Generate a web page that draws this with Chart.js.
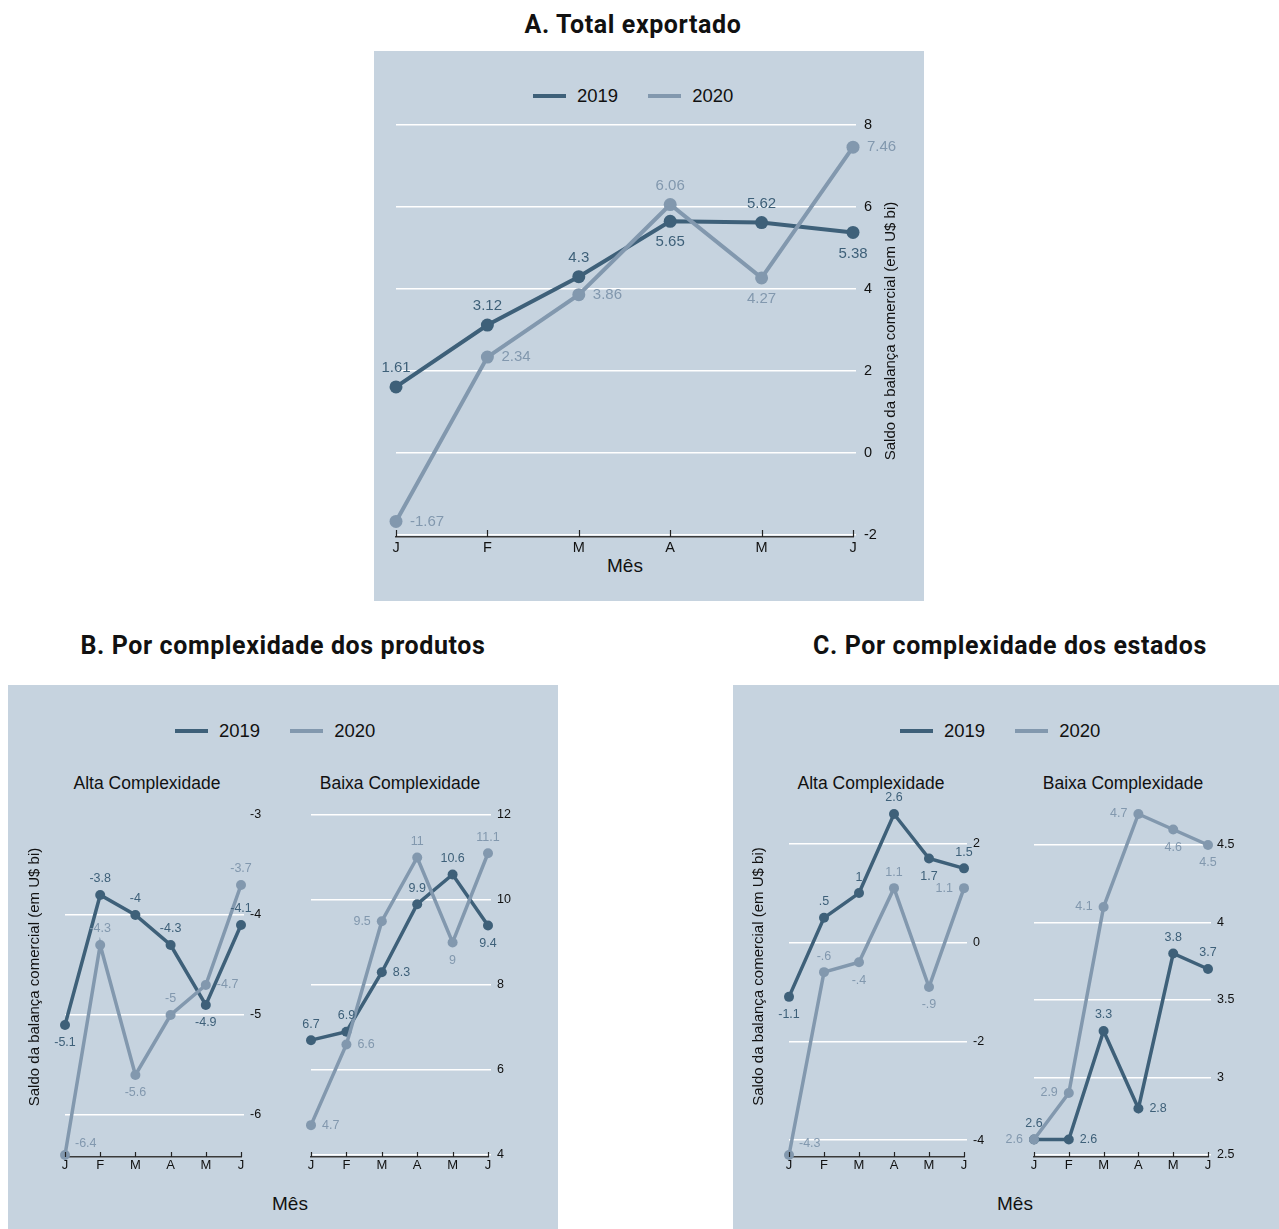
<!DOCTYPE html>
<html>
<head>
<meta charset="utf-8">
<script src="https://cdn.jsdelivr.net/npm/chart.js@4.4.0/dist/chart.umd.min.js"></script>
<style>
body { margin: 0; width: 1279px; height: 1229px; position: relative; overflow: hidden; background: #fff;
       font-family: "Liberation Sans", Arial, sans-serif; color: #111; }
.panel { position: absolute; background: #c6d3df; }
.head { position: absolute; transform: translate(-50%, -50%); white-space: nowrap;
        font-family: Roboto, sans-serif; font-weight: bold; font-size: 25px; letter-spacing: 0.6px; color: #111; }
.ctr { position: absolute; transform: translate(-50%, -50%); white-space: nowrap; }
.legend { position: absolute; display: flex; align-items: center; font-size: 18.5px; transform: translateY(-50%); }
.sw { display: inline-block; width: 33px; height: 4px; margin-right: 11px; }
canvas { position: absolute; }
</style>
</head>
<body>
<div class="panel" style="left:374px;top:51px;width:550px;height:550px"></div>
<div class="panel" style="left:8px;top:685px;width:550px;height:544px"></div>
<div class="panel" style="left:733px;top:685px;width:546px;height:544px"></div>

<script>
const months = ['J', 'F', 'M', 'A', 'M', 'J'];
const years = ['2019', '2020'];

// A. Total exportado
const total2019 = [1.61, 3.12, 4.3, 5.65, 5.62, 5.38];
const total2020 = [-1.67, 2.34, 3.86, 6.06, 4.27, 7.46];
const totalTicks = [-2, 0, 2, 4, 6, 8];

// B. Por complexidade dos produtos
const prodAlta2019 = [-5.1, -3.8, -4, -4.3, -4.9, -4.1];
const prodAlta2020 = [-6.4, -4.3, -5.6, -5, -4.7, -3.7];
const prodAltaTicks = [-6, -5, -4, -3];
const prodBaixa2019 = [6.7, 6.9, 8.3, 9.9, 10.6, 9.4];
const prodBaixa2020 = [4.7, 6.6, 9.5, 11, 9, 11.1];
const prodBaixaTicks = [4, 6, 8, 10, 12];

// C. Por complexidade dos estados
const estAlta2019 = [-1.1, 0.5, 1, 2.6, 1.7, 1.5];
const estAlta2020 = [-4.3, -0.6, -0.4, 1.1, -0.9, 1.1];
const estAltaTicks = [-4, -2, 0, 2];
const estBaixa2019 = [2.6, 2.6, 3.3, 2.8, 3.8, 3.7];
const estBaixa2020 = [2.6, 2.9, 4.1, 4.7, 4.6, 4.5];
const estBaixaTicks = [2.5, 3, 3.5, 4, 4.5];

const colors = ['#3e6079', '#8298ae'];
const family = '"Liberation Sans", Arial, sans-serif';
const yTitle = 'Saldo da balança comercial (em U$ bi)';

// stata style numbers: .5, -.6
const fmt = v => String(v).replace(/^(-?)0\./, '$1.');

// point labels, x tick marks and the rotated y title
const extras = {
  id: 'extras',
  afterDatasetsDraw(chart, args, o) {
    const ctx = chart.ctx;
    const area = chart.chartArea;
    ctx.save();
    ctx.font = o.labelSize + 'px ' + family;
    ctx.textBaseline = 'middle';
    chart.data.datasets.forEach((ds, di) => {
      const pos = o.pos[di];
      ctx.fillStyle = ds.borderColor;
      chart.getDatasetMeta(di).data.forEach((pt, i) => {
        let x = pt.x, y = pt.y;
        ctx.textAlign = 'center';
        if (pos[i] === 't') y -= o.off;
        else if (pos[i] === 'b') y += o.offB;
        else if (pos[i] === 'r') { x += o.gap; ctx.textAlign = 'left'; }
        else if (pos[i] === 'l') { x -= o.gap; ctx.textAlign = 'right'; }
        else if (pos[i] === 'tr') { x += 10; y -= 11; ctx.textAlign = 'left'; }
        ctx.fillText(fmt(ds.data[i]), x, y);
      });
    });

    const xs = chart.scales.x;
    ctx.strokeStyle = '#222';
    ctx.lineWidth = 1.2;
    xs.ticks.forEach((t, i) => {
      const px = Math.round(xs.getPixelForTick(i)) + 0.5;
      ctx.beginPath();
      ctx.moveTo(px, area.bottom - o.tick);
      ctx.lineTo(px, area.bottom);
      ctx.stroke();
    });

    if (o.title) {
      const tx = o.title.side === 'right' ? area.right + o.title.dx : area.left - o.title.dx;
      ctx.translate(tx, (area.top + area.bottom) / 2 + o.title.dy);
      ctx.rotate(-Math.PI / 2);
      ctx.fillStyle = '#111';
      ctx.textAlign = 'center';
      ctx.font = '15px ' + family;
      ctx.fillText(yTitle, 0, 0);
    }
    ctx.restore();
  }
};

function lineChart(box, s) {
  const cv = document.createElement('canvas');
  cv.width = box.w;
  cv.height = box.h;
  cv.style.left = box.x + 'px';
  cv.style.top = box.y + 'px';
  document.body.appendChild(cv);
  const skip = s.noGrid || [];
  return new Chart(cv, {
    type: 'line',
    data: {
      labels: months,
      datasets: s.series.map((d, i) => ({
        label: years[i],
        data: d,
        borderColor: colors[i],
        backgroundColor: colors[i],
        pointBackgroundColor: colors[i],
        borderWidth: s.lw,
        pointRadius: s.pr,
        pointHoverRadius: s.pr,
        pointBorderWidth: 0,
        tension: 0,
        clip: false,
        order: 1 - i
      }))
    },
    options: {
      responsive: false,
      animation: false,
      devicePixelRatio: 1,
      events: [],
      layout: { padding: { left: s.left - box.x, top: s.top - box.y, right: 0, bottom: 0 } },
      plugins: {
        legend: { display: false },
        tooltip: { enabled: false },
        extras: s.extras
      },
      scales: {
        x: {
          grid: { display: false, drawTicks: false },
          border: { display: true, color: '#3a3a3a', width: 1.5 },
          ticks: { color: '#111', font: { size: s.xfont, family }, padding: s.xpad, maxRotation: 0, autoSkip: false },
          afterFit: sc => { sc.height = box.y + box.h - s.bottom; }
        },
        y: {
          position: 'right',
          min: s.min,
          max: s.max,
          grid: {
            color: c => (c.tick && skip.includes(c.tick.value)) ? 'rgba(0,0,0,0)' : '#ffffff',
            lineWidth: 1.5,
            drawTicks: true,
            tickLength: 3
          },
          border: { display: false },
          ticks: { color: '#111', font: { size: s.yfont, family }, padding: s.ypad, callback: v => fmt(v) },
          afterBuildTicks: sc => { sc.ticks = s.ticks.map(v => ({ value: v })); },
          afterFit: sc => { sc.width = box.x + box.w - s.right; }
        }
      }
    },
    plugins: [extras]
  });
}

function addText(cls, txt, x, y, size) {
  const d = document.createElement('div');
  d.className = cls;
  d.textContent = txt;
  d.style.left = x + 'px';
  d.style.top = y + 'px';
  if (size) d.style.fontSize = size + 'px';
  document.body.appendChild(d);
}

function legend(x, y) {
  const d = document.createElement('div');
  d.className = 'legend';
  d.style.left = x + 'px';
  d.style.top = y + 'px';
  years.forEach((yr, i) => {
    const sw = document.createElement('span');
    sw.className = 'sw';
    sw.style.background = colors[i];
    const t = document.createElement('span');
    t.textContent = yr;
    if (i === 0) t.style.marginRight = '30px';
    d.appendChild(sw);
    d.appendChild(t);
  });
  document.body.appendChild(d);
}

// headings and labels
addText('head', 'A. Total exportado', 633, 24);
addText('head', 'B. Por complexidade dos produtos', 283, 645);
addText('head', 'C. Por complexidade dos estados', 1010, 645);
legend(533, 96);
legend(175, 731);
legend(900, 731);
addText('ctr', 'Alta Complexidade', 147, 783, 17.5);
addText('ctr', 'Baixa Complexidade', 400, 783, 17.5);
addText('ctr', 'Alta Complexidade', 871, 783, 17.5);
addText('ctr', 'Baixa Complexidade', 1123, 783, 17.5);
addText('ctr', 'Mês', 625, 566, 19);
addText('ctr', 'Mês', 290, 1204, 19);
addText('ctr', 'Mês', 1015, 1204, 19);

const bigLabels = { labelSize: 15, off: 19, offB: 21, gap: 14, tick: 7 };
const smallLabels = { labelSize: 12.5, off: 16, offB: 18, gap: 11, tick: 5 };

lineChart({ x: 374, y: 51, w: 550, h: 550 }, {
  series: [total2019, total2020], ticks: totalTicks,
  left: 396, right: 853, top: 125, bottom: 537, min: -2.05, max: 8,
  lw: 4, pr: 6.5, xpad: 2, ypad: 8, xfont: 14.5, yfont: 14.5,
  extras: Object.assign({}, bigLabels, {
    pos: [['t', 't', 't', 'b', 't', 'b'], ['r', 'r', 'r', 't', 'b', 'r']],
    title: { side: 'right', dx: 38, dy: 0 }
  })
});

lineChart({ x: 8, y: 685, w: 275, h: 544 }, {
  series: [prodAlta2019, prodAlta2020], ticks: prodAltaTicks, noGrid: [-3],
  left: 65, right: 241, top: 815, bottom: 1157, min: -6.42, max: -3,
  lw: 3.5, pr: 5, xpad: 1, ypad: 6, xfont: 13, yfont: 12.5,
  extras: Object.assign({}, smallLabels, {
    pos: [['b', 't', 't', 't', 'b', 't'], ['tr', 't', 'b', 't', 'r', 't']],
    title: { side: 'left', dx: 30, dy: -9 }
  })
});

lineChart({ x: 270, y: 685, w: 288, h: 544 }, {
  series: [prodBaixa2019, prodBaixa2020], ticks: prodBaixaTicks,
  left: 311, right: 488, top: 815, bottom: 1157, min: 3.95, max: 12,
  lw: 3.5, pr: 5, xpad: 1, ypad: 6, xfont: 13, yfont: 12.5,
  extras: Object.assign({}, smallLabels, {
    pos: [['t', 't', 'r', 't', 't', 'b'], ['r', 'r', 'l', 't', 'b', 't']]
  })
});

lineChart({ x: 733, y: 685, w: 273, h: 544 }, {
  series: [estAlta2019, estAlta2020], ticks: estAltaTicks,
  left: 789, right: 964, top: 814, bottom: 1157, min: -4.34, max: 2.6,
  lw: 3.5, pr: 5, xpad: 1, ypad: 6, xfont: 13, yfont: 12.5,
  extras: Object.assign({}, smallLabels, {
    pos: [['b', 't', 't', 't', 'b', 't'], ['tr', 't', 'b', 't', 'b', 'l']],
    title: { side: 'left', dx: 30, dy: -9 }
  })
});

lineChart({ x: 990, y: 685, w: 289, h: 544 }, {
  series: [estBaixa2019, estBaixa2020], ticks: estBaixaTicks,
  left: 1034, right: 1208, top: 814, bottom: 1157, min: 2.487, max: 4.7,
  lw: 3.5, pr: 5, xpad: 1, ypad: 6, xfont: 13, yfont: 12.5,
  extras: Object.assign({}, smallLabels, {
    pos: [['t', 'r', 't', 'r', 't', 't'], ['l', 'l', 'l', 'l', 'b', 'b']]
  })
});
</script>
</body>
</html>
